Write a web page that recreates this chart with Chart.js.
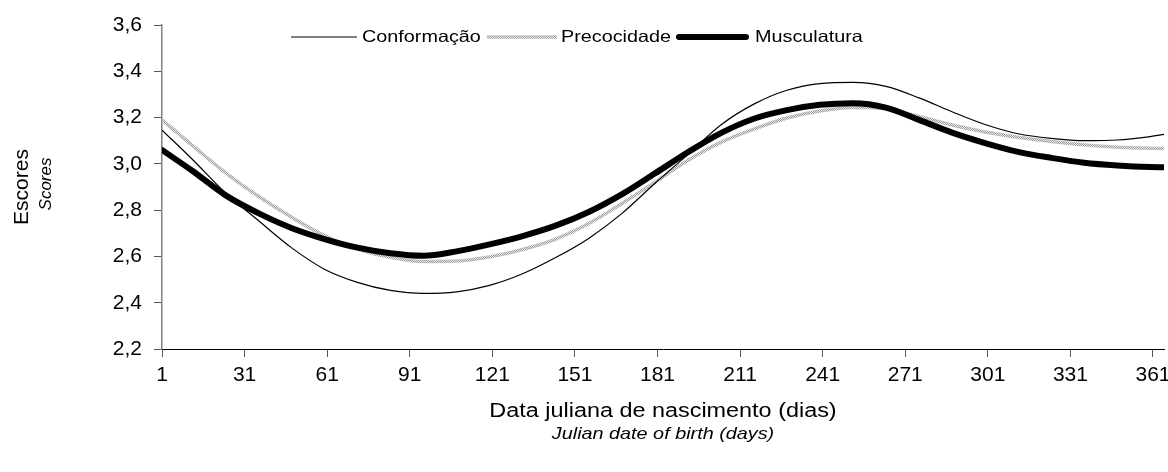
<!DOCTYPE html>
<html><head><meta charset="utf-8">
<script src="https://cdn.jsdelivr.net/npm/chart.js@4"></script>
<style>html,body{margin:0;padding:0;background:#fff}#wrap{width:1168px;height:472px;position:relative}</style>
</head><body><div id="wrap"><canvas id="c" width="1168" height="472"></canvas></div>
<script>
const days =        [1,    12,   24,    36,    48,    60,    72,    84,    96,    108,   120,   132,   144,   156,   168,   180,   192,   204,   216,   228,   240,   252,   264,   276,   288,   300,   312,   324,   336,   348,   360,   365];
const conformacao = [3.146,3.02, 2.875, 2.755, 2.638, 2.545, 2.488, 2.453, 2.44,  2.447, 2.475, 2.525, 2.595, 2.678, 2.785, 2.915, 3.04,  3.168, 3.258, 3.318, 3.347, 3.352, 3.335, 3.285, 3.225, 3.17,  3.13,  3.11,  3.1,   3.103, 3.118, 3.127];
const precocidade = [3.19, 3.08, 2.962, 2.86,  2.77,  2.69,  2.632, 2.596, 2.578, 2.58,  2.598, 2.63,  2.675, 2.742, 2.828, 2.92,  3.015, 3.093, 3.15,  3.198, 3.228, 3.243, 3.238, 3.205, 3.168, 3.138, 3.115, 3.097, 3.082, 3.072, 3.067, 3.066];
const musculatura = [3.06, 2.97, 2.865, 2.787, 2.723, 2.675, 2.638, 2.614, 2.603, 2.622, 2.652, 2.688, 2.733, 2.792, 2.868, 2.958, 3.05,  3.133, 3.195, 3.232, 3.255, 3.262, 3.243, 3.19,  3.135, 3.09,  3.052, 3.026, 3.005, 2.993, 2.986, 2.985];
const xTicks = [1, 31, 61, 91, 121, 151, 181, 211, 241, 271, 301, 331, 361];
const yTicks = [2.2, 2.4, 2.6, 2.8, 3.0, 3.2, 3.4, 3.6];
const seriesNames = ['Conformação', 'Precocidade', 'Musculatura'];
const yTitle = ['Escores', 'Scores'];
const xTitle = ['Data juliana de nascimento (dias)', 'Julian date of birth (days)'];

const FONT = '"Liberation Sans", Arial, sans-serif';
const SX = 1.2; // horizontal stretch of the reference text
const canvas = document.getElementById('c');
const ctx = canvas.getContext('2d');

// grey speckled pattern for Precocidade
const pc = document.createElement('canvas'); pc.width = 2; pc.height = 2;
const pctx = pc.getContext('2d');
pctx.fillStyle = '#e8e8e8'; pctx.fillRect(0, 0, 2, 2);
pctx.fillStyle = '#9c9c9c'; pctx.fillRect(0, 0, 1, 1); pctx.fillRect(1, 1, 1, 1);
const greyPattern = ctx.createPattern(pc, 'repeat');

const pts = arr => days.map((d, i) => ({x: d, y: arr[i]}));

function stretchedText(c, text, x, y, font, align) {
  c.save();
  c.font = font;
  c.textBaseline = 'middle';
  c.textAlign = align || 'center';
  c.translate(x, y);
  c.scale(SX, 1);
  c.fillText(text, 0, 0);
  c.restore();
}

const titlesPlugin = {
  id: 'titles',
  afterDraw(chart) {
    const c = chart.ctx;
    const a = chart.chartArea;
    c.save();
    c.fillStyle = '#000';
    c.textAlign = 'center';
    c.textBaseline = 'middle';
    c.save();
    c.translate(22, 187);
    c.rotate(-Math.PI / 2);
    c.font = '21px ' + FONT;
    c.fillText(yTitle[0], 0, 0);
    c.restore();
    c.save();
    c.translate(46, 184);
    c.rotate(-Math.PI / 2);
    c.font = 'italic 17px ' + FONT;
    c.fillText(yTitle[1], 0, 0);
    c.restore();
    const cx = (a.left + a.right) / 2;
    stretchedText(c, xTitle[0], cx, 412, '19.5px ' + FONT);
    stretchedText(c, xTitle[1], cx, 434, 'italic 16.5px ' + FONT);
    c.restore();
  }
};

const legendPlugin = {
  id: 'customLegend',
  afterDraw(chart) {
    const c = chart.ctx;
    const y = 37;
    const ds = chart.data.datasets;
    const items = [
      {x0: 291, x1: 357, tx: 362},
      {x0: 487, x1: 557, tx: 561},
      {x0: 679, x1: 746, tx: 755}
    ];
    c.save();
    items.forEach((it, i) => {
      c.beginPath();
      c.strokeStyle = ds[i].borderColor;
      c.lineWidth = ds[i].borderWidth;
      c.lineCap = i === 2 ? 'round' : 'butt';
      c.moveTo(it.x0, y);
      c.lineTo(it.x1, y);
      c.stroke();
      c.fillStyle = '#000';
      stretchedText(c, seriesNames[i], it.tx, y, '16.5px ' + FONT, 'left');
    });
    c.restore();
  }
};

new Chart(ctx, {
  type: 'line',
  data: {
    datasets: [
      {label: seriesNames[0], data: pts(conformacao), borderColor: '#000', borderWidth: 1.2, pointRadius: 0, cubicInterpolationMode: 'monotone', order: 0, fill: false},
      {label: seriesNames[1], data: pts(precocidade), borderColor: greyPattern, borderWidth: 3.5, pointRadius: 0, cubicInterpolationMode: 'monotone', order: 2, fill: false},
      {label: seriesNames[2], data: pts(musculatura), borderColor: '#000', borderWidth: 6, borderCapStyle: 'round', pointRadius: 0, cubicInterpolationMode: 'monotone', order: 1, fill: false}
    ]
  },
  options: {
    responsive: false,
    animation: false,
    devicePixelRatio: 1,
    layout: {padding: {top: 25, right: 4, left: 0, bottom: 0}},
    plugins: {legend: {display: false}, tooltip: {enabled: false}},
    scales: {
      x: {
        type: 'linear', min: 1, max: 365,
        afterBuildTicks: s => { s.ticks = xTicks.map(v => ({value: v})); },
        afterFit: s => { s.height = 123; s.paddingRight = 0; s.paddingLeft = 0; },
        ticks: {color: '#000', font: {family: FONT, size: 21}, padding: 6, maxRotation: 0, autoSkip: false, callback: v => String(v)},
        grid: {drawOnChartArea: false, tickLength: 8, color: '#555'},
        border: {color: '#000', width: 1}
      },
      y: {
        min: 2.2, max: 3.6,
        afterBuildTicks: s => { s.ticks = yTicks.map(v => ({value: v})); },
        afterFit: s => { s.width = 162; s.paddingTop = 0; s.paddingBottom = 0; },
        ticks: {color: '#000', font: {family: FONT, size: 21}, padding: 12, callback: v => v.toFixed(1).replace('.', ',')},
        grid: {drawOnChartArea: false, tickLength: 8, color: '#555'},
        border: {color: '#808080', width: 1.5}
      }
    }
  },
  plugins: [titlesPlugin, legendPlugin]
});
</script>
</body></html>
